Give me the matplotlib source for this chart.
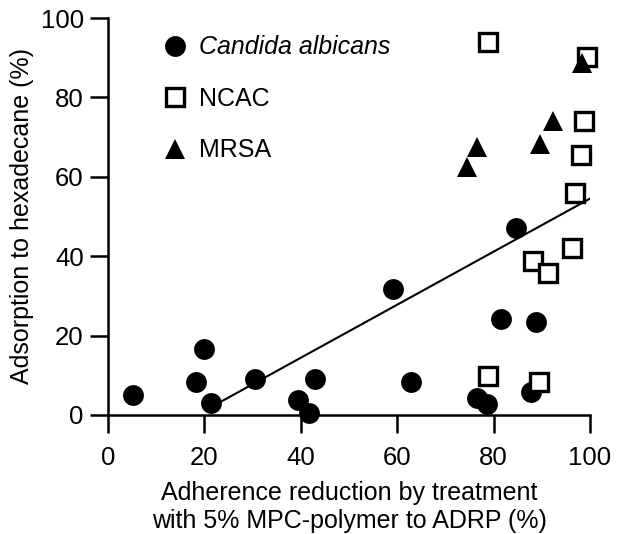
import matplotlib
matplotlib.use("Agg")
import matplotlib.pyplot as plt
import numpy as np

plt.rcParams['font.family'] = ['Liberation Sans', 'DejaVu Sans']

# Data
candida_x = [5.1, 20.0, 18.2, 21.3, 30.6, 39.4, 41.8, 43.0, 59.1, 62.9, 76.5, 78.6, 81.6, 84.6, 88.9, 87.7]
candida_y = [5.0, 16.5, 8.2, 2.9, 9.0, 3.8, 0.6, 9.0, 31.8, 8.2, 4.4, 2.8, 24.2, 47.1, 23.5, 5.8]

ncac_x = [78.9, 99.4, 98.8, 98.1, 96.9, 96.3, 88.1, 91.3, 78.9, 89.5]
ncac_y = [93.9, 90.1, 74.0, 65.6, 55.8, 42.0, 38.8, 35.8, 9.9, 8.4]

mrsa_x = [74.5, 76.5, 89.7, 92.3, 98.3]
mrsa_y = [62.5, 67.6, 68.3, 74.0, 88.6]

fit_slope = 0.668
fit_intercept = -12.3
fit_range = [21.3, 99.9]

x_ticks = [0, 20, 40, 60, 80, 100]
y_ticks = [0, 20, 40, 60, 80, 100]

fig = plt.figure(figsize=(6.3, 5.34), dpi=100)
ax = fig.add_axes([108/630, 1 - 415/534, 482/630, 397/534])

fx = np.array(fit_range)
ax.plot(fx, fit_slope * fx + fit_intercept, color='black', lw=1.5, zorder=2)

ax.plot(candida_x, candida_y, 'o', color='black', ms=15, mew=0, ls='none',
        clip_on=False, zorder=3, label='Candida albicans')
ax.plot(ncac_x, ncac_y, 's', mfc='white', mec='black', ms=12.5, mew=2.4, ls='none',
        clip_on=False, zorder=3, label='NCAC')
ax.plot(mrsa_x, mrsa_y, '^', color='black', ms=15, mew=0, ls='none',
        clip_on=False, zorder=4, label='MRSA')

ax.set_xlim(0, 100)
ax.set_ylim(0, 100)
ax.set_xticks(x_ticks)
ax.set_yticks(y_ticks)
ax.spines['top'].set_visible(False)
ax.spines['right'].set_visible(False)
for s in ['left', 'bottom']:
    ax.spines[s].set_linewidth(1.8)
ax.tick_params(direction='out', length=13, width=1.8, labelsize=18.5)
ax.tick_params(axis='x', pad=9)
ax.tick_params(axis='y', pad=4.5)

ax.set_xlabel('Adherence reduction by treatment\nwith 5% MPC-polymer to ADRP (%)',
              fontsize=18, labelpad=8, linespacing=1.25)
ax.set_ylabel('Adsorption to hexadecane (%)', fontsize=18, labelpad=5)

leg = ax.legend(loc='upper left', bbox_to_anchor=(0.113, 0.956), frameon=False,
                fontsize=18, handlelength=1.0, handletextpad=0.45,
                labelspacing=1.1, borderpad=0, borderaxespad=0)
leg.get_texts()[0].set_fontstyle('italic')

fig.savefig('out.png', dpi=100)
